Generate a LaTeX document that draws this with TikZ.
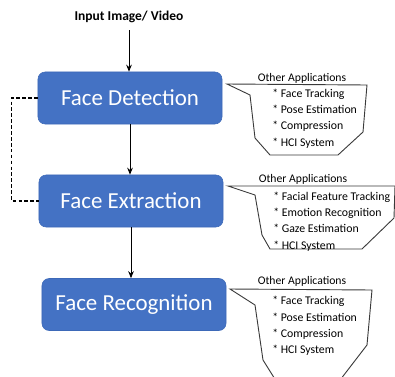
\documentclass[tikz,border=0pt]{standalone}
\usepackage{fontspec}
\setmainfont{Carlito}
\usetikzlibrary{arrows.meta,positioning}
\definecolor{boxblue}{HTML}{4472C4}
\definecolor{boxedge}{HTML}{3D69B8}
\definecolor{bubblegray}{HTML}{3A3A3A}

\begin{document}
\begin{tikzpicture}[x=0.025cm, y=-0.025cm,
    stage/.style={draw=boxedge, fill=boxblue, rounded corners=0.18cm, minimum width=4.6cm, minimum height=1.3cm, inner sep=0pt, text=white, font=\fontsize{16.3}{19}\selectfont},
    arr/.style={-{Stealth[length=5pt,width=4pt]}, line width=0.6pt},
    loopback/.style={dashed, dash pattern=on 2.6pt off 1.6pt, line width=0.8pt},
    bubble/.style={draw=bubblegray, line width=0.65pt},
    apptitle/.style={font=\fontsize{8.3}{10}\selectfont, inner sep=0pt},
    applist/.style={font=\fontsize{8.4}{11.6}\selectfont, align=left, anchor=west, inner sep=0pt}
]
\clip (0,0) rectangle (395,376);

\node[font=\bfseries\fontsize{9.6}{11}\selectfont, inner sep=0pt] (inp) at (129,17) {Input Image/ Video};
\node[stage] (det) at (130,98) {Face Detection};
\node[stage] (ext) at (131,201) {Face Extraction};
\node[stage] (rec) at (134,304.5) {Face Recognition};

\draw[arr, shorten <=5pt] (inp.south) -- (inp.south |- det.north);
\draw[arr] (det.south) -- (det.south |- ext.north);
\draw[arr] (ext.south) -- (ext.south |- rec.north);
\draw[loopback] (det.west) -- ++(-26,0) |- (ext.west);

\draw[bubble] (227,84) -- (367,85) -- (363,132) -- (338,155) -- (270,155) -- (255,138) -- (250,95) -- cycle;
\draw[bubble] (228,186) -- (395,186) -- (394,218) -- (362,249) -- (270,249) -- (262,235) -- (255,195) -- cycle;
\draw[bubble] (230,289) -- (372,290) -- (367,345) -- (337,384) -- (278,384) -- (263,360) -- (255,305) -- cycle;

\node[apptitle] (t1) at (302,78) {Other Applications};
\node[applist] (l1) at (272,118.5) {* Face Tracking\\* Pose Estimation\\* Compression\\* HCI System};
\node[apptitle] (t2) at (303,179) {Other Applications};
\node[applist] (l2) at (273,221.5) {* Facial Feature Tracking\\* Emotion Recognition\\* Gaze Estimation\\* HCI System};
\node[apptitle] (t3) at (302,281) {Other Applications};
\node[applist] (l3) at (272,326) {* Face Tracking\\* Pose Estimation\\* Compression\\* HCI System};
\end{tikzpicture}
\end{document}
